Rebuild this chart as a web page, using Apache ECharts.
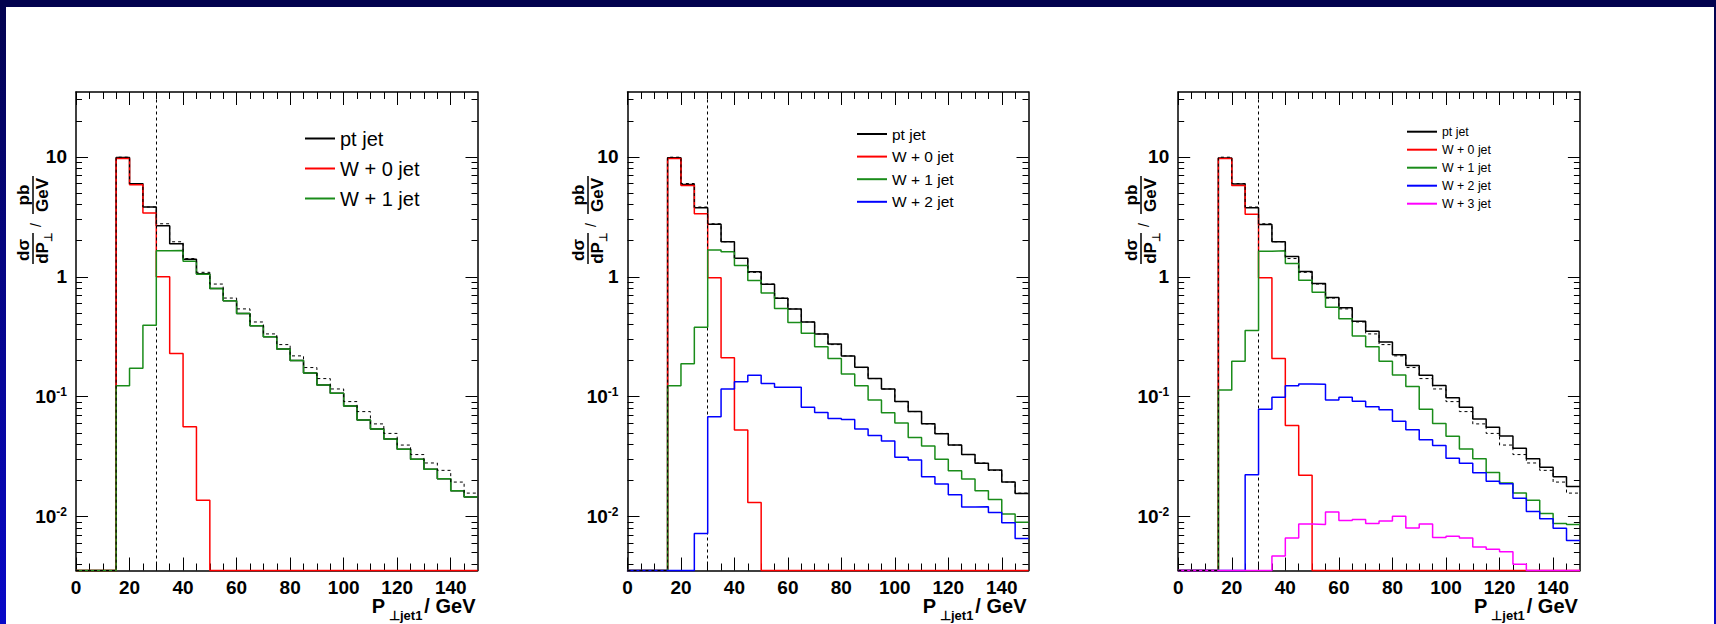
<!DOCTYPE html>
<html>
<head>
<meta charset="utf-8">
<title>jet pT spectra</title>
<script src="https://cdn.jsdelivr.net/npm/echarts@6/dist/echarts.min.js"></script>
<style>
  html, body { margin: 0; padding: 0; background: #fff; }
  #chart { width: 1716px; height: 624px; }
</style>
</head>
<body>
<div id="chart"></div>
<script>
// lower edges of the 5 GeV bins
var ptBins = [0, 5, 10, 15, 20, 25, 30, 35, 40, 45, 50, 55, 60, 65, 70, 75,
  80, 85, 90, 95, 100, 105, 110, 115, 120, 125, 130, 135, 140, 145];

// dashed reference curve (same on every pad)
var refCurve = [0, 0, 0, 9.95, 6.0, 3.82, 2.77, 1.96, 1.42, 1.09, 0.87, 0.665, 0.54, 0.42, 0.334,
  0.272, 0.219, 0.175, 0.1416, 0.116, 0.091, 0.0751, 0.0593, 0.0494, 0.0395, 0.0329, 0.028, 0.0243, 0.0194, 0.0157];

// pad 1
var p1PtJet = [0, 0, 0, 9.9, 5.97, 3.82, 2.66, 1.89, 1.4, 1.06, 0.8, 0.63, 0.495, 0.39, 0.316,
  0.25, 0.2, 0.158, 0.125, 0.107, 0.0836, 0.064, 0.0537, 0.0443, 0.0364, 0.0301, 0.0248, 0.0207, 0.0164, 0.0146];
var p1W0 = [0, 0, 0, 9.7, 5.86, 3.41, 1.0, 0.229, 0.0562, 0.0137, 0, 0, 0, 0, 0,
  0, 0, 0, 0, 0, 0, 0, 0, 0, 0, 0, 0, 0, 0, 0];
var p1W1 = [0, 0, 0, 0.1236, 0.173, 0.395, 1.65, 1.66, 1.35, 1.05, 0.8, 0.63, 0.495, 0.39, 0.316,
  0.25, 0.2, 0.158, 0.125, 0.107, 0.0836, 0.064, 0.0537, 0.0443, 0.0364, 0.0301, 0.0248, 0.0207, 0.0164, 0.0146];

// pad 2
var p2PtJet = [0, 0, 0, 9.85, 5.9, 3.76, 2.75, 1.96, 1.43, 1.1, 0.868, 0.664, 0.54, 0.42, 0.334,
  0.275, 0.219, 0.176, 0.1416, 0.116, 0.091, 0.0751, 0.0595, 0.049, 0.0395, 0.0329, 0.0279, 0.0245, 0.0194, 0.0156];
var p2W0 = [0, 0, 0, 9.7, 5.77, 3.35, 0.98, 0.211, 0.0528, 0.0131, 0, 0, 0, 0, 0,
  0, 0, 0, 0, 0, 0, 0, 0, 0, 0, 0, 0, 0, 0, 0];
var p2W1 = [0, 0, 0, 0.1236, 0.188, 0.38, 1.67, 1.62, 1.24, 0.93, 0.733, 0.544, 0.416, 0.339, 0.261,
  0.208, 0.155, 0.1236, 0.0938, 0.0734, 0.0602, 0.0457, 0.0387, 0.0301, 0.0241, 0.0206, 0.0164, 0.0139, 0.0105, 0.00898];
var p2W2 = [0, 0, 0, 0, 0, 0.00724, 0.068, 0.116, 0.133, 0.151, 0.129, 0.12, 0.12, 0.0817, 0.0739,
  0.0659, 0.0644, 0.0537, 0.0475, 0.0427, 0.0312, 0.0296, 0.0215, 0.0187, 0.0152, 0.012, 0.0121, 0.0108, 0.0089, 0.00656];

// pad 3
var p3PtJet = [0, 0, 0, 9.8, 5.95, 3.76, 2.73, 1.96, 1.48, 1.11, 0.88, 0.673, 0.552, 0.426, 0.351,
  0.286, 0.224, 0.182, 0.151, 0.124, 0.0982, 0.0817, 0.065, 0.0557, 0.0471, 0.0372, 0.0303, 0.0258, 0.0215, 0.0178];
var p3W0 = [0, 0, 0, 9.7, 5.77, 3.33, 0.98, 0.208, 0.0575, 0.0221, 0, 0, 0, 0, 0,
  0, 0, 0, 0, 0, 0, 0, 0, 0, 0, 0, 0, 0, 0, 0];
var p3W1 = [0, 0, 0, 0.1135, 0.198, 0.357, 1.63, 1.65, 1.29, 0.935, 0.744, 0.556, 0.446, 0.321, 0.261,
  0.198, 0.152, 0.1216, 0.0787, 0.0598, 0.0468, 0.0366, 0.0303, 0.0233, 0.0191, 0.0157, 0.0137, 0.0106, 0.00877, 0.0086];
var p3W2 = [0, 0, 0, 0, 0, 0.0223, 0.0787, 0.0989, 0.1236, 0.1274, 0.127, 0.0938, 0.099, 0.0916, 0.0824,
  0.078, 0.0625, 0.0529, 0.0437, 0.0392, 0.0307, 0.0278, 0.0232, 0.0197, 0.0188, 0.0142, 0.011, 0.0096, 0.008, 0.00632];
var p3W3 = [0, 0, 0, 0, 0, 0, 0, 0.0047, 0.00664, 0.00868, 0.00858, 0.0109, 0.00926, 0.00944, 0.00874,
  0.0092, 0.01005, 0.00803, 0.00868, 0.00668, 0.00686, 0.00664, 0.00558, 0.00534, 0.0051, 0.004, 0, 0, 0, 0];

// axis ticks / labels
var xLabelVals = [0, 20, 40, 60, 80, 100, 120, 140];
var xMinorVals = [5, 10, 15, 25, 30, 35, 45, 50, 55, 65, 70, 75, 85, 90, 95, 105, 110, 115, 125, 130, 135, 145];
var yLabelVals = [0.01, 0.1, 1, 10];
var yMinorVals = [0.004, 0.005, 0.006, 0.007, 0.008, 0.009, 0.02, 0.03, 0.04, 0.05, 0.06, 0.07, 0.08, 0.09,
  0.2, 0.3, 0.4, 0.5, 0.6, 0.7, 0.8, 0.9, 2, 3, 4, 5, 6, 7, 8, 9, 20, 30];
var jetCut = 30;

var X_MIN = 0, X_MAX = 150, Y_MIN = 0.00355, Y_MAX = 34.8;
var FONT = '"Liberation Sans", Arial, Helvetica, sans-serif';
var GRID_TOP = 92, GRID_H = 478.5;

var lineColors = {
  'pt jet': '#000000',
  'W + 0 jet': '#ff0000',
  'W + 1 jet': '#1a8c1a',
  'W + 2 jet': '#0000ff',
  'W + 3 jet': '#ff00ff'
};

var pads = [
  { left: 76, width: 401.5, titleX: 33,
    hists: [['pt jet', p1PtJet], ['W + 0 jet', p1W0], ['W + 1 jet', p1W1]],
    legend: { left: 305, top: 127.5, fontSize: 20, lineHeight: 22, gap: 8 } },
  { left: 627.5, width: 401, titleX: 588,
    hists: [['pt jet', p2PtJet], ['W + 0 jet', p2W0], ['W + 1 jet', p2W1], ['W + 2 jet', p2W2]],
    legend: { left: 857, top: 125.5, fontSize: 15.5, lineHeight: 17, gap: 5.6 } },
  { left: 1178.2, width: 401.7, titleX: 1141,
    hists: [['pt jet', p3PtJet], ['W + 0 jet', p3W0], ['W + 1 jet', p3W1], ['W + 2 jet', p3W2], ['W + 3 jet', p3W3]],
    legend: { left: 1407, top: 124.7, fontSize: 12.3, lineHeight: 14, gap: 4 } }
];

// histogram as step points; empty bins sit on the frame bottom like ROOT does
function stepData(vals) {
  var pts = vals.map(function (v, i) { return [ptBins[i], v > 0 ? v : Y_MIN]; });
  pts.push([X_MAX, pts[pts.length - 1][1]]);
  return pts;
}

function tick(len, vals) {
  return { show: true, inside: true, length: len, customValues: vals, lineStyle: { color: '#000', width: 1 } };
}

function frameLine(show) {
  return { show: show, onZero: false, lineStyle: { color: '#000', width: 1.5 } };
}

var grids = [], xAxes = [], yAxes = [], series = [], legends = [], graphics = [];

pads.forEach(function (pad, p) {
  grids.push({ left: pad.left, top: GRID_TOP, width: pad.width, height: GRID_H, containLabel: false, outerBoundsMode: 'none' });

  var xb = { type: 'value', gridIndex: p, min: X_MIN, max: X_MAX, splitLine: { show: false }, axisLabel: { show: false } };
  xAxes.push(Object.assign({}, xb, {
    position: 'bottom', axisLine: frameLine(true), axisTick: tick(13, xLabelVals),
    axisLabel: { show: true, customValues: xLabelVals, margin: 7, color: '#000', fontFamily: FONT, fontWeight: 'bold', fontSize: 19 }
  }));
  xAxes.push(Object.assign({}, xb, { position: 'bottom', axisLine: frameLine(false), axisTick: tick(7, xMinorVals) }));
  xAxes.push(Object.assign({}, xb, { position: 'top', axisLine: frameLine(true), axisTick: tick(13, xLabelVals) }));
  xAxes.push(Object.assign({}, xb, { position: 'top', axisLine: frameLine(false), axisTick: tick(7, xMinorVals) }));

  var yb = { type: 'log', logBase: 10, gridIndex: p, min: Y_MIN, max: Y_MAX, splitLine: { show: false }, axisLabel: { show: false } };
  yAxes.push(Object.assign({}, yb, {
    position: 'left', axisLine: frameLine(true), axisTick: tick(12, yLabelVals),
    axisLabel: {
      show: true, customValues: yLabelVals, margin: 9, color: '#000',
      fontFamily: FONT, fontWeight: 'bold', fontSize: 19,
      formatter: function (v) {
        var e = Math.round(Math.log10(v));
        return e >= 0 ? '{b|' + String(Math.pow(10, e)) + '}' : '{b|10}{e|' + e + '}';
      },
      rich: {
        b: { fontFamily: FONT, fontWeight: 'bold', fontSize: 19, lineHeight: 22, color: '#000' },
        e: { fontFamily: FONT, fontWeight: 'bold', fontSize: 12, lineHeight: 13, verticalAlign: 'top', color: '#000' }
      }
    }
  }));
  yAxes.push(Object.assign({}, yb, { position: 'left', axisLine: frameLine(false), axisTick: tick(6, yMinorVals) }));
  yAxes.push(Object.assign({}, yb, { position: 'right', axisLine: frameLine(true), axisTick: tick(12, yLabelVals) }));
  yAxes.push(Object.assign({}, yb, { position: 'right', axisLine: frameLine(false), axisTick: tick(6, yMinorVals) }));

  pad.hists.forEach(function (h, k) {
    var c = lineColors[h[0]];
    series.push({
      type: 'line', name: h[0], xAxisIndex: 4 * p, yAxisIndex: 4 * p,
      data: stepData(h[1]), step: 'end', symbol: 'none', showSymbol: false, clip: false,
      color: c, lineStyle: { color: c, width: 1.5 }, z: 3 + k, silent: true
    });
  });

  series.push({
    type: 'line', name: 'reference', xAxisIndex: 4 * p, yAxisIndex: 4 * p,
    data: stepData(refCurve), step: 'end', symbol: 'none', showSymbol: false, clip: false,
    color: '#000', lineStyle: { color: '#000', width: 1, type: [3, 3] }, z: 10, silent: true,
    markLine: {
      silent: true, symbol: 'none', label: { show: false },
      lineStyle: { color: '#000', width: 1, type: [3, 3] },
      data: [{ xAxis: jetCut }]
    }
  });

  legends.push({
    left: pad.legend.left, top: pad.legend.top, orient: 'vertical', padding: 0,
    itemWidth: 30, itemHeight: 2, itemGap: pad.legend.gap, icon: 'rect', selectedMode: false,
    itemStyle: { borderWidth: 0 },
    textStyle: { fontFamily: FONT, fontSize: pad.legend.fontSize, lineHeight: pad.legend.lineHeight, color: '#000' },
    data: pad.hists.map(function (h) { return h[0]; })
  });

  // y title: dσ/dP⊥ / (pb/GeV), written bottom to top
  var fb = { fontFamily: FONT, fontWeight: 'bold', fontSize: 17, fill: '#000' };
  graphics.push({
    type: 'group', x: pad.titleX, y: 217, rotation: Math.PI / 2,
    children: [
      { type: 'text', x: -33, y: -1, style: Object.assign({ text: 'dσ', align: 'center', verticalAlign: 'bottom' }, fb) },
      { type: 'text', x: -31, y: 1, style: Object.assign({
          text: '{n|dP}{s|⊥}', align: 'center', verticalAlign: 'top',
          rich: {
            n: Object.assign({ lineHeight: 18, verticalAlign: 'top' }, fb),
            s: { fontFamily: FONT, fontWeight: 'bold', fontSize: 11, fill: '#000', lineHeight: 13, padding: [8, 0, 0, 0], verticalAlign: 'top' }
          } }, fb) },
      { type: 'line', shape: { x1: -47, y1: 0, x2: -16, y2: 0 }, style: { stroke: '#000', lineWidth: 1.5 } },
      { type: 'text', x: -8, y: 3, style: Object.assign({ text: '/', align: 'center', verticalAlign: 'middle' }, fb, { fontWeight: 'normal', fontSize: 14 }) },
      { type: 'text', x: 22, y: -1, style: Object.assign({ text: 'pb', align: 'center', verticalAlign: 'bottom' }, fb) },
      { type: 'text', x: 22, y: 1, style: Object.assign({ text: 'GeV', align: 'center', verticalAlign: 'top' }, fb) },
      { type: 'line', shape: { x1: 3, y1: 0, x2: 41, y2: 0 }, style: { stroke: '#000', lineWidth: 1.5 } }
    ]
  });

  // x title: P⊥jet1 / GeV, right aligned to the frame
  graphics.push({
    type: 'text', x: pad.left + pad.width - 2, y: 596,
    style: {
      text: '{p|P}{s|⊥jet1}{p|/ GeV}', align: 'right', verticalAlign: 'top',
      rich: {
        p: { fontFamily: FONT, fontWeight: 'bold', fontSize: 20, fill: '#000', lineHeight: 21, verticalAlign: 'top' },
        s: { fontFamily: FONT, fontWeight: 'bold', fontSize: 13, fill: '#000', lineHeight: 14, padding: [13, 2, 0, 4], verticalAlign: 'top' }
      }
    }
  });
});

// slide frame
var edgeFill = new echarts.graphic.LinearGradient(0, 0, 0, 1, [
  { offset: 0, color: '#03034f' }, { offset: 1, color: '#0808c8' }
]);
graphics.push({ type: 'rect', shape: { x: 0, y: 0, width: 6, height: 624 }, style: { fill: edgeFill }, z: 100 });
graphics.push({ type: 'rect', shape: { x: 1714, y: 0, width: 2, height: 624 }, style: { fill: edgeFill }, z: 100 });
graphics.push({ type: 'rect', shape: { x: 0, y: 0, width: 1716, height: 7 }, style: { fill: '#03034f' }, z: 100 });

var chart = echarts.init(document.getElementById('chart'), null, { renderer: 'svg' });
chart.setOption({
  animation: false,
  backgroundColor: '#ffffff',
  grid: grids,
  xAxis: xAxes,
  yAxis: yAxes,
  legend: legends,
  series: series,
  graphic: graphics
});
</script>
</body>
</html>
